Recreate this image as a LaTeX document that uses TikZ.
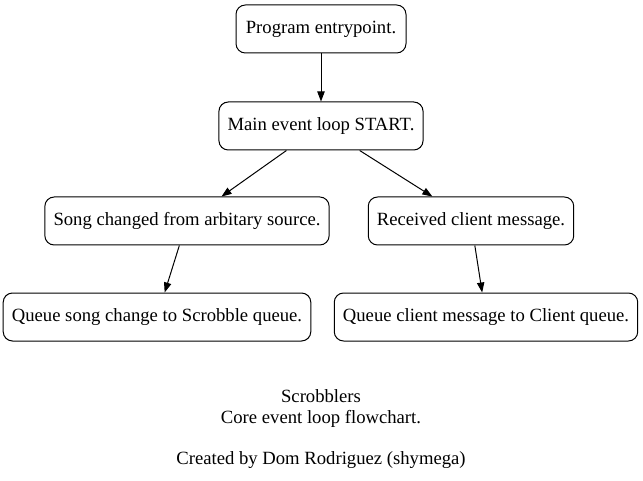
\documentclass[tikz,border=0pt]{standalone}
\usepackage{fontspec}
\setmainfont{Liberation Serif}
\usetikzlibrary{arrows.meta}
\tikzset{
  stepbox/.style={draw, line width=0.75pt, rounded corners=7pt, minimum height=36pt, inner xsep=6.5pt, font=\fontsize{14}{16}\selectfont},
  caption/.style={align=center, font=\fontsize{14}{15.5}\selectfont},
}
\begin{document}
\begin{tikzpicture}[x=0.75pt,y=-0.75pt]
      \useasboundingbox (0,0) rectangle (643,481);
      \draw
        (321,29) node[stepbox, minimum width=127.5pt] (entry){Program entrypoint.}
        (321,126) node[stepbox] (loop){Main event loop START.}
        (187,221) node[stepbox] (song){Song changed from arbitary source.}
        (471,221) node[stepbox] (msg){Received client message.}
        (157,317) node[stepbox] (scrobble){Queue song change to Scrobble queue.}
        (486,317) node[stepbox] (client){Queue client message to Client queue.}
        (321,429) node[caption] (title){Scrobblers\\Core event loop flowchart.\\[15.5pt]Created by Dom Rodriguez (shymega)};
      \begin{scope}[line width=0.75pt, -{Triangle[length=7.5pt,width=5.5pt]}]
        \draw (entry) to (loop);
        \draw (loop) to (song);
        \draw (loop) to (msg);
        \draw (song) to (scrobble);
        \draw (msg) to (client);
      \end{scope}
    \end{tikzpicture}
\end{document}
